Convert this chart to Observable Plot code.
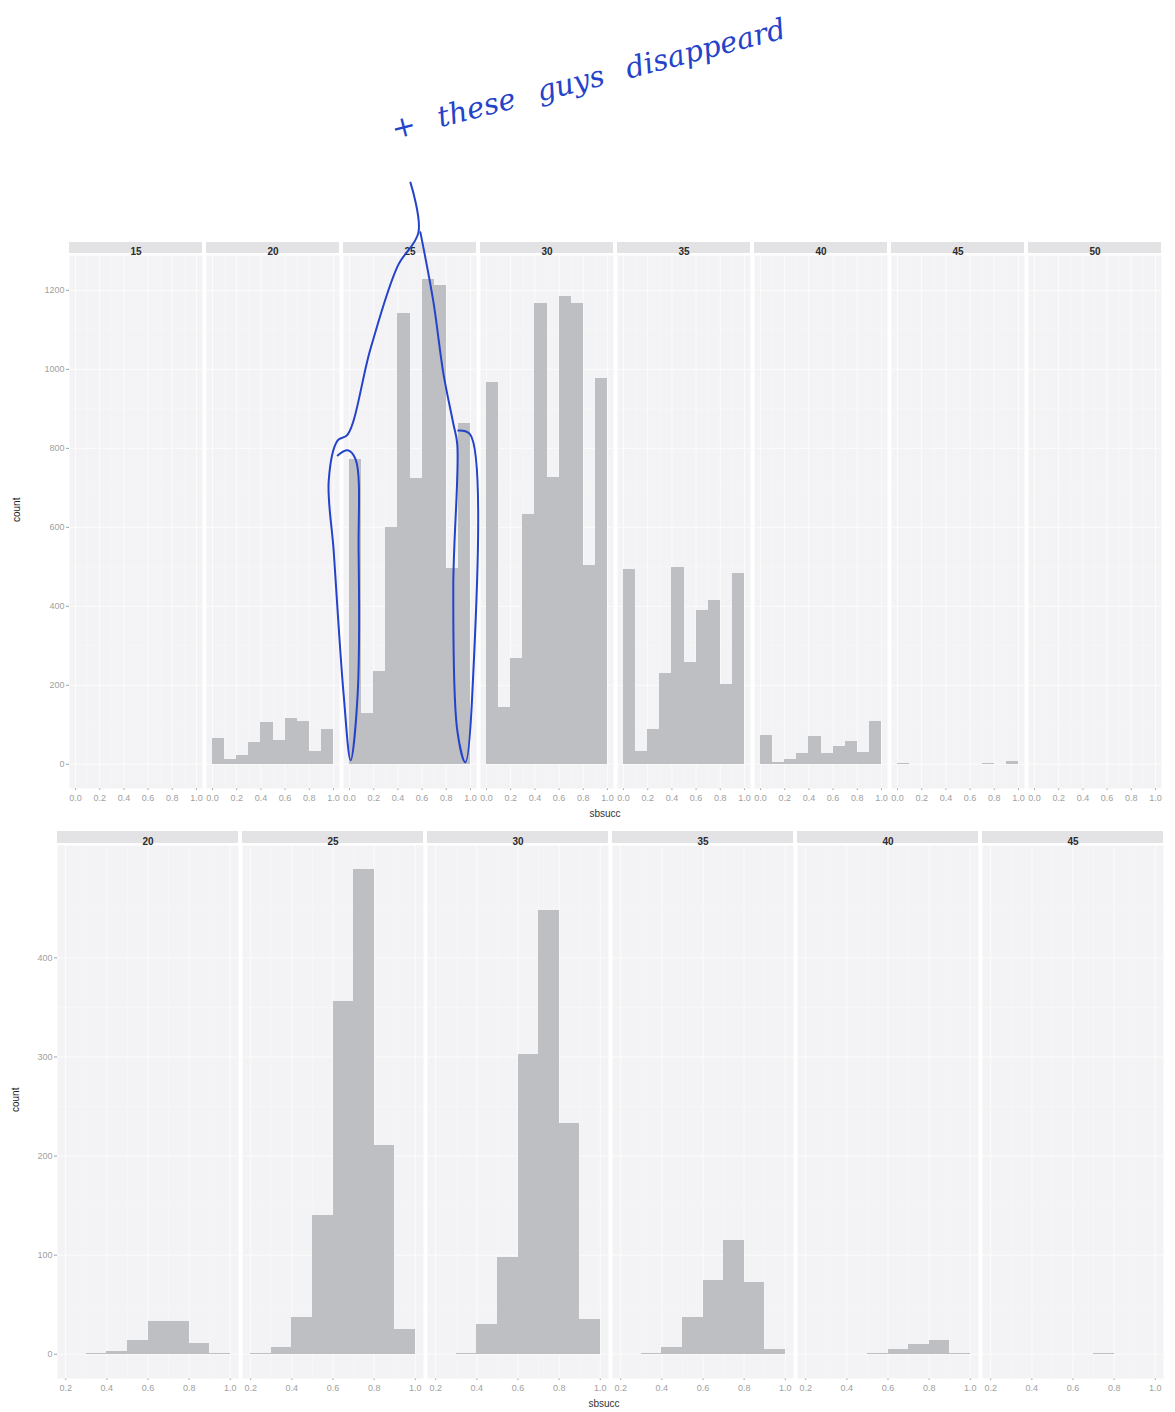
<!DOCTYPE html>
<html><head><meta charset="utf-8">
<script src="https://cdn.jsdelivr.net/npm/d3@7"></script>
<script src="https://cdn.jsdelivr.net/npm/@observablehq/plot@0.6"></script>
<style>
body{margin:0;background:#fff;}
#wrap{position:relative;width:1175px;height:1412px;overflow:hidden;font-family:"Liberation Sans",Arial,sans-serif;background:#fff;}
#top,#bottom{position:absolute;left:0;}
#top{top:0;}
#bottom{top:820px;}
.xlab{position:absolute;font-size:10px;color:#333;transform:translateX(-50%);white-space:nowrap;}
#note{position:absolute;left:396px;top:112px;line-height:34px;transform-origin:0 100%;transform:rotate(-14.5deg);font-family:"DejaVu Serif",serif;font-style:italic;font-size:29px;color:#2443c9;white-space:nowrap;word-spacing:14px;z-index:5;}
</style></head><body>
<div id="wrap">
  <div id="top"></div>
  <div id="bottom"></div>
  <div class="xlab" style="left:605px;top:808px">sbsucc</div>
  <div class="xlab" style="left:604px;top:1398px">sbsucc</div>
  <div id="note">+ these guys disappeard</div>
</div>
<script>
// ---------- top chart data ----------
const topFacets = [15, 20, 25, 30, 35, 40, 45, 50];
const topBinEdges = [0.0, 0.1, 0.2, 0.3, 0.4, 0.5, 0.6, 0.7, 0.8, 0.9, 1.0];
const top15 = [0, 0, 0, 0, 0, 0, 0, 0, 0, 0];
const top20 = [66, 12, 23, 55, 105, 59, 116, 108, 32, 89];
const top25 = [771, 129, 235, 599, 1141, 724, 1227, 1213, 495, 864];
const top30 = [967, 143, 269, 633, 1168, 726, 1184, 1166, 504, 977];
const top35 = [494, 32, 87, 230, 498, 258, 389, 414, 203, 483];
const top40 = [72, 5, 11, 27, 70, 27, 45, 57, 30, 108];
const top45 = [3, 0, 0, 0, 0, 0, 0, 2, 0, 6];
const top50 = [0, 0, 0, 0, 0, 0, 0, 0, 0, 0];
const topXTicks = [0.0, 0.2, 0.4, 0.6, 0.8, 1.0];
const topYTicks = [0, 200, 400, 600, 800, 1000, 1200];

// ---------- bottom chart data ----------
const bottomFacets = [20, 25, 30, 35, 40, 45];
const bottomBinEdges = [0.2, 0.3, 0.4, 0.5, 0.6, 0.7, 0.8, 0.9, 1.0];
const bot20 = [0, 1, 3, 14, 33, 33, 11, 1];
const bot25 = [1, 7, 37, 140, 356, 489, 211, 25];
const bot30 = [0, 1, 30, 98, 303, 448, 233, 35];
const bot35 = [0, 1, 7, 37, 74, 115, 72, 5];
const bot40 = [0, 0, 0, 1, 5, 10, 14, 1];
const bot45 = [0, 0, 0, 0, 0, 1, 0, 0];
const bottomXTicks = [0.2, 0.4, 0.6, 0.8, 1.0];
const bottomYTicks = [0, 100, 200, 300, 400];

// ---------- handwritten annotation (facet 25 of top chart, data units) ----------
const annotationFacet = 25;
const leftStroke = [
  {x: 0.504, y: 1473}, {x: 0.570, y: 1347}, {x: 0.397, y: 1261}, {x: 0.174, y: 1053},
  {x: -0.016, y: 835}, {x: -0.098, y: 820}, {x: -0.172, y: 719}, {x: -0.131, y: 539},
  {x: -0.049, y: 177}, {x: 0.009, y: 10}, {x: 0.067, y: 177}, {x: 0.075, y: 539},
  {x: 0.050, y: 772}, {x: -0.016, y: 795}, {x: -0.098, y: 782}
];
const rightStroke = [
  {x: 0.586, y: 1347}, {x: 0.693, y: 1172}, {x: 0.776, y: 990}, {x: 0.858, y: 863},
  {x: 0.891, y: 810}, {x: 0.858, y: 448}, {x: 0.891, y: 86}, {x: 0.957, y: 5},
  {x: 1.015, y: 177}, {x: 0.998, y: 835}, {x: 0.899, y: 845}
];

function facetHist(o) {
  const rows = [];
  o.facets.forEach((f, i) => o.counts[i].forEach((c, j) =>
    rows.push({facet: f, x1: o.edges[j], x2: o.edges[j + 1], count: c})));
  const maxC = d3.max(rows, d => d.count);
  const [e0, e1] = d3.extent(o.edges);
  const xpad = (e1 - e0) * 0.05, ypad = maxC * 0.05;
  const xDomain = [e0 - xpad, e1 + xpad], yDomain = [-ypad, maxC + ypad];
  const xMinor = d3.pairs(o.xTicks).map(([a, b]) => (a + b) / 2);
  const ystep = o.yTicks[1] - o.yTicks[0];
  const yMinor = o.yTicks.map(v => v + ystep / 2).filter(v => v < yDomain[1]);
  const plotW = 1175 - o.marginLeft - o.marginRight;
  const gap = 4;
  const step = (plotW + gap) / o.facets.length;
  const stripH = o.stripH;
  return Plot.plot({
    width: 1175, height: o.height,
    marginTop: o.marginTop, marginBottom: o.marginBottom,
    marginLeft: o.marginLeft, marginRight: o.marginRight,
    style: {background: "transparent", fontFamily: "Liberation Sans, Arial, sans-serif", fontSize: "9px", color: "#a0a0a0"},
    fx: {domain: o.facets, paddingInner: gap / step, paddingOuter: 0, axis: null, label: null},
    x: {domain: xDomain, ticks: o.xTicks, tickFormat: d3.format(".1f"), tickSize: 2, tickPadding: 4, label: null},
    y: {domain: yDomain, ticks: o.yTicks, tickFormat: d3.format("d"), tickSize: 3, tickPadding: 2, label: null},
    marks: [
      Plot.frame({fill: "#F3F3F5", stroke: "none"}),
      Plot.ruleY(yMinor, {stroke: "#ffffff", strokeWidth: 0.6, strokeOpacity: 0.45}),
      Plot.ruleY(o.yTicks, {stroke: "#ffffff", strokeWidth: 1, strokeOpacity: 0.7}),
      Plot.ruleX(xMinor, {stroke: "#ffffff", strokeWidth: 0.6, strokeOpacity: 0.45}),
      Plot.ruleX(o.xTicks, {stroke: "#ffffff", strokeWidth: 1, strokeOpacity: 0.7}),
      Plot.rect(rows, {fx: "facet", x1: "x1", x2: "x2", y1: 0, y2: "count",
        fill: "#BEBFC3", inset: 0, shapeRendering: "crispEdges"}),
      Plot.rect(o.facets, {fx: d => d, y1: yDomain[1], y2: yDomain[1],
        insetTop: -stripH, insetBottom: 2, fill: "#E3E3E5"}),
      Plot.text(o.facets, {fx: d => d, text: d => String(d), frameAnchor: "top",
        dy: -(stripH / 2 + 1), fill: "#2b2b2b", fontWeight: "bold", fontSize: 10}),
      Plot.text([o.facets[0]], {fx: d => d, text: () => "count", frameAnchor: "left",
        dx: o.labelDx, rotate: -90, fill: "#222", fontSize: 10}),
      ...(o.extra || [])
    ]
  });
}

const annStyle = {fx: () => annotationFacet, x: "x", y: "y", stroke: "#2443c9", strokeWidth: 2, curve: "catmull-rom"};

const topChart = facetHist({
  facets: topFacets, edges: topBinEdges,
  counts: [top15, top20, top25, top30, top35, top40, top45, top50],
  xTicks: topXTicks, yTicks: topYTicks,
  height: 820, marginTop: 255, marginBottom: 32, marginLeft: 68, marginRight: 12,
  stripH: 13, labelDx: -53,
  extra: [Plot.line(leftStroke, annStyle), Plot.line(rightStroke, annStyle)]
});
document.getElementById("top").appendChild(topChart);

const bottomChart = facetHist({
  facets: bottomFacets, edges: bottomBinEdges,
  counts: [bot20, bot25, bot30, bot35, bot40, bot45],
  xTicks: bottomXTicks, yTicks: bottomYTicks,
  height: 592, marginTop: 25, marginBottom: 34, marginLeft: 57, marginRight: 12,
  stripH: 14, labelDx: -42
});
document.getElementById("bottom").appendChild(bottomChart);
</script>
</body></html>
